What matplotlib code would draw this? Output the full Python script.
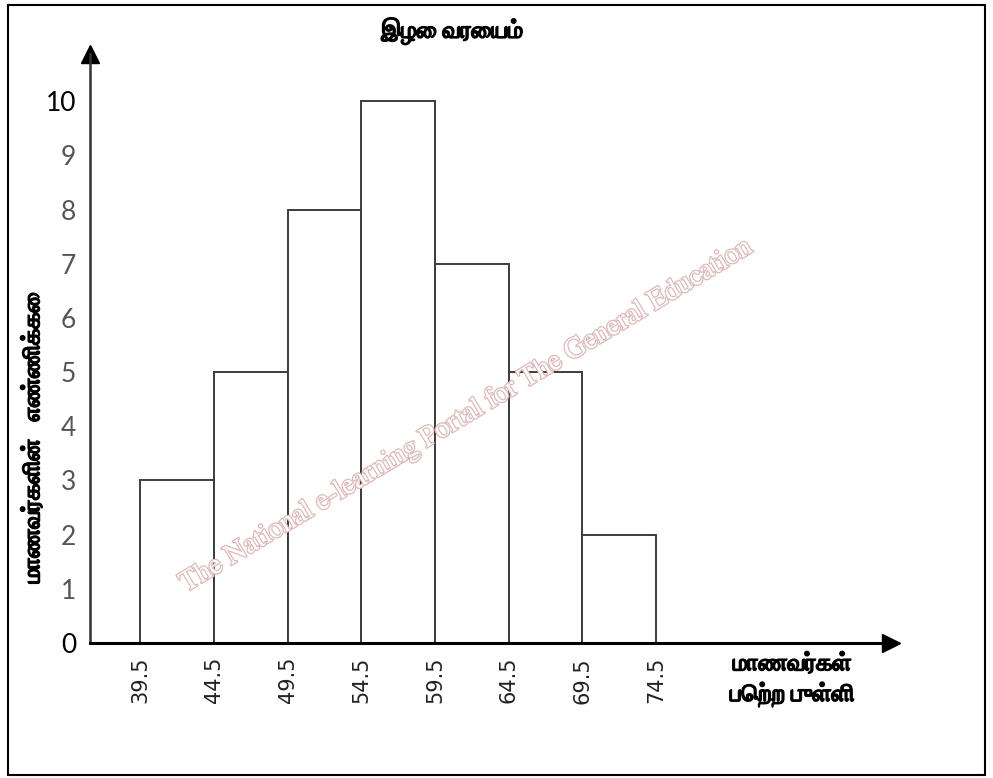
import os
import matplotlib
matplotlib.use("Agg")
import matplotlib.pyplot as plt
from matplotlib.patches import Rectangle
from matplotlib.font_manager import FontProperties
import matplotlib.patheffects as pe

# histogram data: class boundaries and student counts
edges = [39.5, 44.5, 49.5, 54.5, 59.5, 64.5, 69.5, 74.5]
counts = [3, 5, 8, 10, 7, 5, 2]
yticks = list(range(0, 11))

title = "இழை வரையம்"
ylabel = "மாணவர்களின்   எண்ணிக்கை"
xlabel = "மாணவர்கள்\nபெற்ற புள்ளி"
watermark = "The National e-learning Portal for The General Education"

bold_file = "/usr/share/fonts/truetype/freefont/FreeSerifBold.ttf"
if os.path.exists(bold_file):
    def tamil(size):
        return FontProperties(fname=bold_file, size=size)
else:
    def tamil(size):
        return FontProperties(family=["FreeSerif", "DejaVu Sans"], weight="bold", size=size)

# the Tamil glyphs come out thin, so thicken them a bit
heavy = [pe.withStroke(linewidth=0.9, foreground="black")]

fig = plt.figure(figsize=(9.93, 7.78), dpi=100)
ax = fig.add_axes([90 / 993, 135 / 778, 801 / 993, 589 / 778])

widths = [b - a for a, b in zip(edges[:-1], edges[1:])]
ax.bar(edges[:-1], counts, width=widths, align="edge", color="white",
       edgecolor="#3c3c3c", linewidth=1.4, zorder=2)

ax.set_xlim(36.1, 90.43)
ax.set_ylim(0, 10.87)

for s in ("top", "right"):
    ax.spines[s].set_visible(False)
ax.spines["left"].set_color("#333333")
ax.spines["left"].set_linewidth(1.8)
ax.spines["bottom"].set_color("black")
ax.spines["bottom"].set_linewidth(2.2)

# arrow heads on the axes
ax.plot(1, 0, ">", color="black", markersize=13, transform=ax.transAxes, clip_on=False)
ax.plot(0, 1, "^", color="black", markersize=13, transform=ax.transAxes, clip_on=False)

ax.set_xticks(edges)
ax.set_xticklabels([f"{e:.1f}" for e in edges], rotation=90, fontsize=15,
                   family="DejaVu Sans", color="#222222", va="top")
ax.set_yticks(yticks)
ax.set_yticklabels([str(t) for t in yticks], fontsize=19, family="Lato")
for lab, t in zip(ax.get_yticklabels(), yticks):
    lab.set_color("black" if t in (0, 10) else "#555555")
ax.tick_params(axis="both", length=0)
ax.tick_params(axis="x", pad=10)
ax.tick_params(axis="y", pad=10)

fig.text(452 / 993, 1 - 31 / 778, title, ha="center", va="center",
         fontproperties=tamil(17), path_effects=heavy)
fig.text(33 / 993, 1 - 438 / 778, ylabel, ha="center", va="center",
         rotation=90, fontproperties=tamil(17), path_effects=heavy)
fig.text(792 / 993, 1 - 680 / 778, xlabel, ha="center", va="center",
         fontproperties=tamil(17), linespacing=1.3, path_effects=heavy)

# faint watermark
fig.text(466 / 993, 1 - 416 / 778, watermark, ha="center", va="center",
         rotation=31, fontsize=21, color="white", family="FreeSerif",
         path_effects=[pe.withStroke(linewidth=1.8, foreground="#dfb9b9")], zorder=3)

# frame around whole picture
fig.patches.append(Rectangle((8 / 993, 3 / 778), 977 / 993, 770 / 778,
                             transform=fig.transFigure, fill=False,
                             edgecolor="black", linewidth=1.5))

fig.savefig("out.png", dpi=100)
